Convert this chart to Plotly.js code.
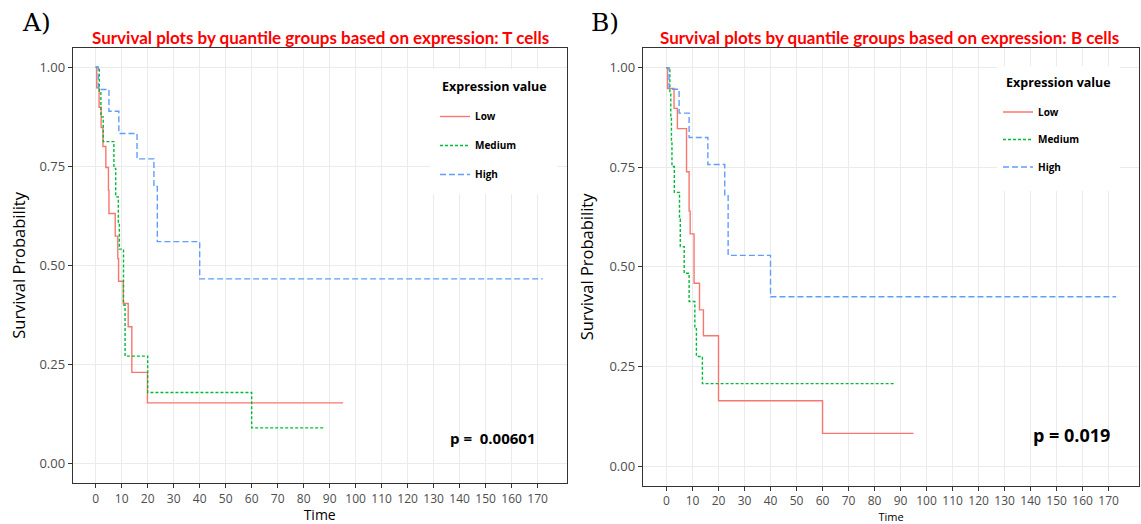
<!DOCTYPE html>
<html>
<head>
<meta charset="utf-8">
<script src="https://cdn.plot.ly/plotly-3.0.1.min.js"></script>
<style>html,body{margin:0;padding:0;background:#fff}#chart{width:1141px;height:524px}</style>
</head>
<body>
<div id="chart"></div>
<script>
// ---- Data ----
const groups = ["Low", "Medium", "High"];
const groupColors = ["#F8766D", "#00BA38", "#619CFF"];
const xTickVals = [0,10,20,30,40,50,60,70,80,90,100,110,120,130,140,150,160,170];
const yTickVals = [0, 0.25, 0.5, 0.75, 1];

// Panel A: T cells
const tA_low  = [0, 0.4, 1.3, 2.1, 2.8, 3.9, 4.9, 5.1, 7.5, 8.5, 8.8, 10.6, 12.5, 13.9, 19.9, 95.2];
const sA_low  = [1, 0.948, 0.899, 0.848, 0.80, 0.747, 0.69, 0.631, 0.574, 0.517, 0.46, 0.404, 0.345, 0.23, 0.153, 0.153];
const tA_med  = [0, 1.4, 2.0, 2.9, 7.0, 7.7, 8.7, 9.1, 10.7, 11.3, 20.0, 60.0, 87.7];
const sA_med  = [1, 0.94, 0.875, 0.8125, 0.745, 0.673, 0.607, 0.541, 0.40, 0.271, 0.179, 0.09, 0.09];
const tA_high = [0, 1.0, 5.1, 8.9, 15.9, 22.4, 23.7, 40.0, 172.0];
const sA_high = [1, 0.944, 0.889, 0.833, 0.769, 0.699, 0.56, 0.466, 0.466];

// Panel B: B cells
const tB_low  = [0, 0.4, 2.9, 4.2, 7.7, 8.7, 9.1, 10.6, 12.7, 14.2, 20.0, 60.0, 95.0];
const sB_low  = [1, 0.948, 0.898, 0.847, 0.739, 0.64, 0.583, 0.459, 0.392, 0.327, 0.164, 0.082, 0.082];
const tB_med  = [0, 1.3, 1.65, 1.9, 2.1, 3.0, 5.0, 5.3, 6.8, 8.7, 10.9, 11.5, 13.8, 87.5];
const sB_med  = [1, 0.94, 0.877, 0.815, 0.752, 0.687, 0.62, 0.551, 0.484, 0.413, 0.345, 0.275, 0.207, 0.207];
const tB_high = [0, 1.0, 4.85, 8.7, 15.9, 22.4, 23.7, 40.0, 172.9];
const sB_high = [1, 0.946, 0.886, 0.825, 0.757, 0.681, 0.529, 0.425, 0.425];

const pA = "p =  0.00601";
const pB = "p = 0.019";
const titleA = "Survival plots by quantile groups based on expression: T cells";
const titleB = "Survival plots by quantile groups based on expression: B cells";
const legendTitle = "Expression value";

// ---- Build ----
const dashes = ["solid", "3px,2px", "6px,3px"];
const W = 1141, H = 524;
function px(x){ return x / W; }
function py(y){ return (H - y) / H; }

const panelA = [[tA_low, sA_low], [tA_med, sA_med], [tA_high, sA_high]];
const panelB = [[tB_low, sB_low], [tB_med, sB_med], [tB_high, sB_high]];

const traces = [];
panelA.forEach((d, i) => traces.push({
  x: d[0], y: d[1], type: "scatter", mode: "lines", name: groups[i],
  line: {shape: "hv", color: groupColors[i], width: 1.4, dash: dashes[i]},
  xaxis: "x", yaxis: "y", legend: "legend", legendgroup: "a" + i, hoverinfo: "skip"
}));
panelB.forEach((d, i) => traces.push({
  x: d[0], y: d[1], type: "scatter", mode: "lines", name: groups[i],
  line: {shape: "hv", color: groupColors[i], width: 1.4, dash: dashes[i]},
  xaxis: "x2", yaxis: "y2", legend: "legend2", legendgroup: "b" + i, hoverinfo: "skip"
}));

const tickFont = {family: "Open Sans", size: 12, color: "#4D4D4D"};
function xAxis(domain, range, titleSize, standoff, anchor) {
  return {
    domain: domain, range: range, anchor: anchor,
    tickmode: "array", tickvals: xTickVals, ticktext: xTickVals.map(String),
    ticks: "outside", ticklen: 4, tickcolor: "#333", tickwidth: 1,
    tickfont: tickFont, showgrid: true, gridcolor: "#EBEBEB", gridwidth: 1,
    zeroline: false, showline: true, linecolor: "#333", linewidth: 1, mirror: true,
    title: {text: "Time", font: {family: "Open Sans", size: titleSize, color: "#000"}, standoff: standoff},
    fixedrange: true
  };
}
function yAxis(domain, anchor, standoff) {
  return {
    domain: domain, range: [-0.05, 1.05], anchor: anchor,
    tickmode: "array", tickvals: yTickVals, ticktext: yTickVals.map(v => v.toFixed(2)),
    ticks: "outside", ticklen: 4, tickcolor: "#333", tickwidth: 1,
    tickfont: {family: "Open Sans", size: 13, color: "#4D4D4D"},
    showgrid: true, gridcolor: "#EBEBEB", gridwidth: 1,
    zeroline: false, showline: true, linecolor: "#333", linewidth: 1, mirror: true,
    title: {text: "Survival Probability", font: {family: "Open Sans", size: 16.5, color: "#000"}, standoff: standoff},
    fixedrange: true
  };
}
function legend(x, y, gap) {
  return {
    x: x, y: y, xanchor: "left", yanchor: "top", xref: "paper", yref: "paper",
    bgcolor: "rgba(255,255,255,0)", borderwidth: 0, itemwidth: 30, tracegroupgap: gap,
    font: {family: "Open Sans", size: 10, color: "#000", weight: "bold"},
    itemclick: false, itemdoubleclick: false
  };
}
function ann(text, x, y, font, xanchor) {
  return {text: text, x: px(x), y: py(y), xref: "paper", yref: "paper",
          xanchor: xanchor || "center", yanchor: "middle", showarrow: false, font: font};
}
function whiteBox(x0, y0, x1, y1) {
  return {type: "rect", xref: "paper", yref: "paper", layer: "above",
          x0: px(x0), x1: px(x1), y0: py(y1), y1: py(y0),
          fillcolor: "#FFFFFF", line: {width: 0}};
}

const titleFont = {family: "Lato", size: 17, color: "#FF0000", weight: "bold"};
const legTitleFont = {family: "Open Sans", size: 12.5, color: "#000", weight: "bold"};

const layout = {
  width: W, height: H, margin: {l: 0, r: 0, t: 0, b: 0},
  paper_bgcolor: "#FFFFFF", plot_bgcolor: "#FFFFFF", showlegend: true,
  xaxis: xAxis([px(72.7), px(566.7)], [-8.85, 181.2], 14, 4, "y"),
  yaxis: yAxis([py(483.3), py(47.5)], "x", 9),
  xaxis2: xAxis([px(642.7), px(1139.3)], [-9.15, 181.8], 11, 6, "y2"),
  yaxis2: yAxis([py(486), py(47.8)], "x2", 11),
  legend: legend(px(435), py(102), 10),
  legend2: legend(px(998), py(97.5), 8.5),
  shapes: [whiteBox(430, 69, 557, 194), whiteBox(997, 66, 1120, 191)],
  annotations: [
    ann(titleA, 320, 38, titleFont),
    ann(titleB, 889, 38, titleFont),
    ann("A)", 36, 23, {family: "DejaVu Serif", size: 25, color: "#000"}),
    ann("B)", 605, 23, {family: "DejaVu Serif", size: 25, color: "#000"}),
    ann(legendTitle, 440, 87, legTitleFont, "left"),
    ann(legendTitle, 1004, 83, legTitleFont, "left"),
    ann(pA, 493, 438, {family: "Open Sans", size: 15, color: "#000", weight: "bold"}),
    ann(pB, 1071, 435, {family: "Open Sans", size: 18, color: "#000", weight: "bold"})
  ]
};

Plotly.newPlot("chart", traces, layout, {displayModeBar: false, staticPlot: true});
</script>
</body>
</html>
